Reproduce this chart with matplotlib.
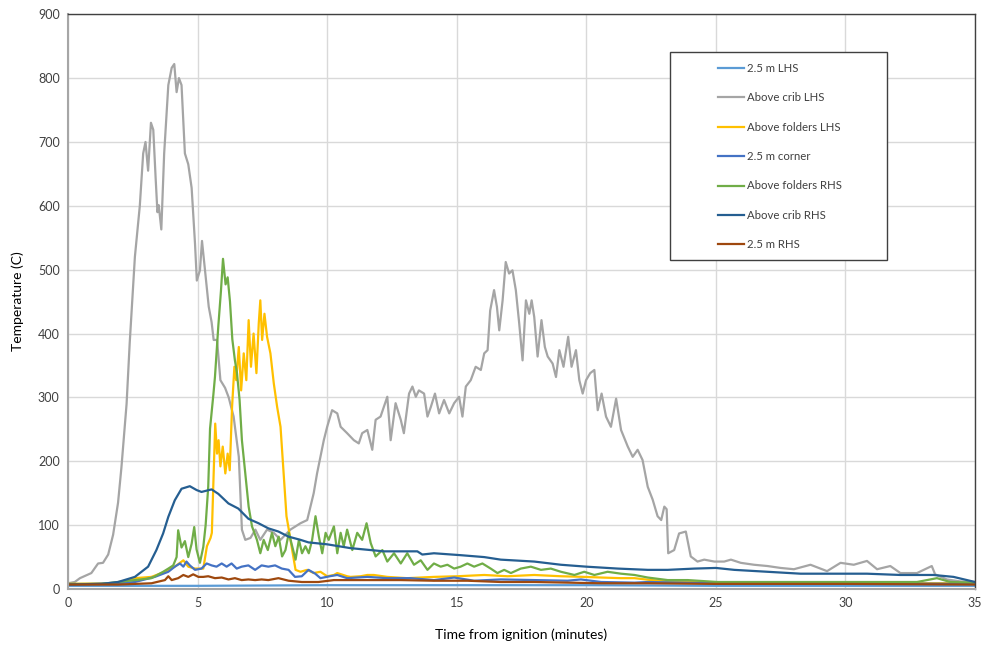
import matplotlib
matplotlib.use('Agg')
import matplotlib.pyplot as plt
from matplotlib.patches import Rectangle

plt.rcParams['font.family'] = ['Lato', 'DejaVu Sans']

# thermocouple readings, time in minutes, temperature in C
lhs_25_t = [0, 5, 10, 15, 20, 25, 30, 35]
lhs_25_T = [5, 5, 6, 6, 6, 5, 5, 5]

crib_lhs_t = [0.0, 0.26, 0.46, 0.9, 1.16, 1.35, 1.55, 1.74, 1.93, 2.06, 2.26, 2.38, 2.58, 2.77, 2.9,
              2.99, 3.09, 3.2, 3.29, 3.38, 3.45, 3.5, 3.6, 3.71, 3.87, 4.0, 4.1, 4.19, 4.28, 4.38,
              4.51, 4.64, 4.77, 4.9, 4.97, 5.09, 5.17, 5.3, 5.43, 5.54, 5.62, 5.75, 5.88, 6.06, 6.2,
              6.39, 6.59, 6.71, 6.84, 7.04, 7.23, 7.42, 7.68, 7.94, 8.2, 8.58, 8.97, 9.23, 9.48, 9.61,
              9.74, 9.87, 10.0, 10.19, 10.39, 10.52, 10.77, 11.03, 11.22, 11.35, 11.55, 11.74, 11.87,
              12.06, 12.32, 12.45, 12.64, 12.84, 12.96, 13.16, 13.29, 13.42, 13.54, 13.74, 13.87, 14.0,
              14.16, 14.32, 14.51, 14.71, 14.9, 15.09, 15.22, 15.35, 15.54, 15.73, 15.93, 16.06, 16.19,
              16.29, 16.44, 16.55, 16.64, 16.77, 16.89, 17.02, 17.15, 17.28, 17.41, 17.54, 17.67, 17.8,
              17.89, 17.99, 18.12, 18.27, 18.4, 18.51, 18.7, 18.83, 18.96, 19.12, 19.3, 19.43, 19.6,
              19.73, 19.86, 19.99, 20.15, 20.31, 20.44, 20.59, 20.76, 20.95, 21.15, 21.34, 21.6, 21.79,
              21.98, 22.17, 22.37, 22.56, 22.75, 22.89, 23.01, 23.1, 23.16, 23.39, 23.58, 23.84, 24.03,
              24.29, 24.55, 24.94, 25.32, 25.58, 25.96, 26.47, 26.99, 27.5, 28.01, 28.65, 29.29, 29.81,
              30.32, 30.83, 31.22, 31.73, 32.12, 32.76, 33.33, 33.46, 33.91, 34.42, 35.0]
crib_lhs_T = [9, 11, 17, 25, 40, 41, 54, 85, 135, 190, 290, 385, 520, 600, 682,
              700, 655, 730, 719, 644, 590, 601, 563, 682, 789, 816, 822, 778, 800, 789,
              682, 665, 628, 541, 483, 499, 545, 494, 442, 418, 390, 390, 327, 315, 300,
              270, 207, 93, 77, 80, 93, 77, 93, 88, 77, 93, 103, 108, 150, 181,
              207, 233, 254, 280, 275, 254, 244, 233, 228, 244, 249, 218, 265,
              270, 301, 233, 291, 265, 244, 306, 317, 301, 311, 306, 270, 285,
              306, 275, 296, 275, 291, 301, 270, 317, 327, 348, 343, 369, 374,
              436, 468, 442, 405, 452, 512, 494, 499, 468, 416, 358, 452, 431,
              452, 426, 364, 421, 379, 364, 353, 332, 374, 348, 395, 348, 374,
              327, 306, 327, 338, 343, 280, 306, 270, 254, 298, 249, 223, 207,
              218, 202, 160, 140, 114, 108, 129, 125, 56, 61, 87, 90, 51,
              43, 46, 43, 43, 46, 41, 38, 36, 33, 31, 38, 28, 41,
              38, 44, 31, 36, 25, 25, 36, 23, 15, 12, 11]

folders_lhs_t = [0, 1.93, 2.58, 3.22, 3.74, 4.12, 4.45, 4.64, 4.9, 5.22, 5.36, 5.5, 5.55, 5.62, 5.68,
                 5.75, 5.81, 5.88, 5.97, 6.07, 6.16, 6.24, 6.33, 6.42, 6.49, 6.59, 6.68, 6.78, 6.88,
                 6.97, 7.06, 7.16, 7.27, 7.36, 7.42, 7.49, 7.58, 7.68, 7.81, 7.94, 8.07, 8.2, 8.32,
                 8.43, 8.52, 8.65, 8.78, 8.97, 9.23, 9.48, 9.74, 10.0, 10.26, 10.39, 10.77, 10.9,
                 11.29, 11.55, 11.8, 12.32, 13.09, 14.12, 15.03, 16.06, 16.96, 17.99, 19.02, 19.92,
                 20.57, 21.34, 21.86, 22.5, 23.78, 25.7, 35]
folders_lhs_T = [8, 9, 17, 19, 27, 35, 45, 35, 32, 32, 67, 80, 88, 181, 259,
                 212, 233, 192, 223, 181, 212, 186, 285, 348, 327, 379, 311, 369, 327,
                 421, 348, 400, 338, 416, 452, 390, 431, 395, 369, 322, 285, 254, 181,
                 114, 93, 61, 30, 27, 30, 25, 27, 20, 22, 25, 20, 19,
                 20, 22, 22, 19, 17, 19, 20, 22, 20, 22, 20, 19,
                 18, 17, 17, 14, 11, 10, 9]

corner_t = [0, 1.93, 2.58, 3.35, 3.87, 4.12, 4.32, 4.45, 4.57, 4.7, 4.9, 5.15, 5.35, 5.54, 5.73,
            5.93, 6.12, 6.31, 6.51, 6.7, 6.96, 7.22, 7.47, 7.73, 7.99, 8.25, 8.51, 8.76, 9.02,
            9.28, 9.54, 9.74, 10.1, 10.39, 10.77, 11.55, 12.32, 13.22, 14.12, 14.9, 15.67, 16.7,
            17.99, 19.28, 19.79, 20.57, 21.86, 22.37, 25, 30, 35]
corner_T = [7, 9, 11, 19, 27, 35, 40, 35, 43, 37, 30, 32, 40, 37, 35,
            40, 35, 40, 32, 35, 37, 30, 37, 35, 37, 32, 30, 19, 20,
            30, 24, 17, 20, 22, 17, 19, 17, 17, 14, 18, 13, 15,
            14, 13, 15, 11, 10, 11, 9, 9, 8]

folders_rhs_t = [0, 1.29, 1.93, 2.58, 3.22, 3.67, 3.87, 4.06, 4.19, 4.25, 4.38, 4.51, 4.64, 4.77,
                 4.87, 4.96, 5.09, 5.22, 5.31, 5.41, 5.48, 5.61, 5.67, 5.8, 5.9, 5.98, 6.08, 6.16,
                 6.25, 6.34, 6.44, 6.52, 6.62, 6.71, 6.84, 6.97, 7.1, 7.29, 7.42, 7.55, 7.71, 7.87,
                 8.0, 8.13, 8.26, 8.39, 8.52, 8.65, 8.78, 8.91, 9.03, 9.16, 9.29, 9.42, 9.55, 9.68,
                 9.81, 9.94, 10.06, 10.26, 10.39, 10.52, 10.64, 10.77, 10.97, 11.16, 11.35, 11.52,
                 11.68, 11.87, 12.13, 12.32, 12.58, 12.84, 13.09, 13.35, 13.61, 13.87, 14.12, 14.38,
                 14.64, 14.9, 15.15, 15.41, 15.67, 15.99, 16.31, 16.57, 16.83, 17.09, 17.47, 17.86,
                 18.25, 18.63, 19.02, 19.54, 19.92, 20.31, 20.82, 21.34, 21.86, 22.37, 23.14, 23.91,
                 25.06, 26.35, 28.27, 30.83, 32.76, 33.53, 34.04, 35]
folders_rhs_T = [8, 8, 11, 14, 17, 27, 32, 37, 50, 92, 65, 75, 50, 71,
                 97, 62, 41, 66, 100, 160, 251, 305, 332, 412, 466, 517, 477, 488,
                 450, 391, 358, 338, 296, 233, 181, 129, 98, 77, 56, 77, 61, 88,
                 67, 82, 51, 61, 88, 67, 46, 77, 56, 67, 56, 77, 114, 82,
                 56, 88, 77, 98, 56, 88, 67, 93, 61, 88, 77, 103,
                 72, 51, 61, 43, 56, 40, 56, 38, 45, 30, 40, 35,
                 38, 32, 35, 40, 35, 40, 32, 25, 30, 25, 32, 35,
                 30, 32, 27, 22, 27, 22, 27, 24, 22, 18, 14, 14,
                 11, 11, 11, 11, 11, 17, 11, 10]

crib_rhs_t = [0, 1.29, 1.93, 2.58, 3.09, 3.41, 3.67, 3.87, 4.12, 4.38, 4.7, 4.96, 5.15, 5.54, 5.8,
              6.19, 6.57, 6.96, 7.35, 7.73, 8.12, 8.51, 8.97, 9.28, 10.0, 10.9, 12.19, 13.48, 13.67,
              14.12, 15.15, 16.06, 16.7, 17.99, 19.02, 20.0, 21.22, 22.37, 23.14, 24.17, 25.0, 25.71,
              26.99, 28.27, 29.55, 30.83, 32.12, 33.4, 34.17, 35]
crib_rhs_T = [7, 8, 11, 19, 35, 61, 87, 113, 139, 157, 161, 155, 152, 156, 149,
              134, 126, 110, 103, 95, 90, 82, 77, 73, 70, 64, 59, 59, 54,
              56, 53, 50, 46, 43, 38, 35, 32, 30, 30, 32, 33, 30,
              27, 24, 24, 24, 22, 22, 19, 11]

rhs_25_t = [0, 1.93, 3.22, 3.74, 3.87, 4.0, 4.25, 4.45, 4.64, 4.83, 5.03, 5.22, 5.41, 5.67, 5.93,
            6.19, 6.44, 6.7, 6.96, 7.22, 7.47, 7.73, 8.12, 8.51, 9.02, 9.66, 10.26, 11.55, 12.84,
            14.12, 15.41, 16.7, 17.99, 19.28, 20.57, 22.37, 25, 30, 35]
rhs_25_T = [7, 7, 9, 14, 20, 14, 17, 22, 19, 23, 19, 19, 20, 17, 18,
            15, 17, 14, 15, 14, 15, 14, 17, 13, 11, 11, 14, 14, 14,
            13, 13, 11, 11, 10, 9, 9, 8, 8, 7]

series = [
    ('2.5 m LHS', lhs_25_t, lhs_25_T, '#5B9BD5'),
    ('Above crib LHS', crib_lhs_t, crib_lhs_T, '#A5A5A5'),
    ('Above folders LHS', folders_lhs_t, folders_lhs_T, '#FFC000'),
    ('2.5 m corner', corner_t, corner_T, '#4472C4'),
    ('Above folders RHS', folders_rhs_t, folders_rhs_T, '#70AD47'),
    ('Above crib RHS', crib_rhs_t, crib_rhs_T, '#255E91'),
    ('2.5 m RHS', rhs_25_t, rhs_25_T, '#9E480E'),
]

fig = plt.figure(figsize=(9.83, 6.46), dpi=100)
ax = fig.add_axes([0.0692, 0.0882, 0.9227, 0.8898])

for name, t, T, c in series:
    ax.plot(t, T, color=c, lw=1.6, label=name, solid_joinstyle='round')

ax.set_xlim(0, 35)
ax.set_ylim(0, 900)
ax.set_xticks(range(0, 36, 5))
ax.set_yticks(range(0, 901, 100))
ax.grid(True, color='#D9D9D9', lw=1.0)
ax.set_axisbelow(True)
ax.tick_params(length=0, labelsize=9, colors='#404040', pad=6)

for s in ['top', 'right']:
    ax.spines[s].set_color('#404040')
    ax.spines[s].set_linewidth(1.0)
for s in ['left', 'bottom']:
    ax.spines[s].set_color('#A6A6A6')
    ax.spines[s].set_linewidth(1.5)

ax.set_xlabel('Time from ignition (minutes)', fontsize=10, color='black', labelpad=14)
ax.set_ylabel('Temperature (C)', fontsize=10, color='black', labelpad=10)

# legend box drawn separately so it can be wider than the entries
box = Rectangle((670 / 983, 1 - 260 / 646), 217 / 983, 208 / 646, transform=fig.transFigure,
                facecolor='white', edgecolor='#404040', lw=1.0, zorder=5, clip_on=False)
ax.add_patch(box)
leg = ax.legend(loc='upper left', bbox_to_anchor=(712 / 983, 1 - 57 / 646),
                bbox_transform=fig.transFigure, frameon=False, fontsize=8.2,
                handlelength=2.3, handletextpad=0.25, labelspacing=1.62, borderpad=0)
for txt in leg.get_texts():
    txt.set_color('#404040')
leg.set_zorder(6)

fig.savefig('out.png', dpi=100)
